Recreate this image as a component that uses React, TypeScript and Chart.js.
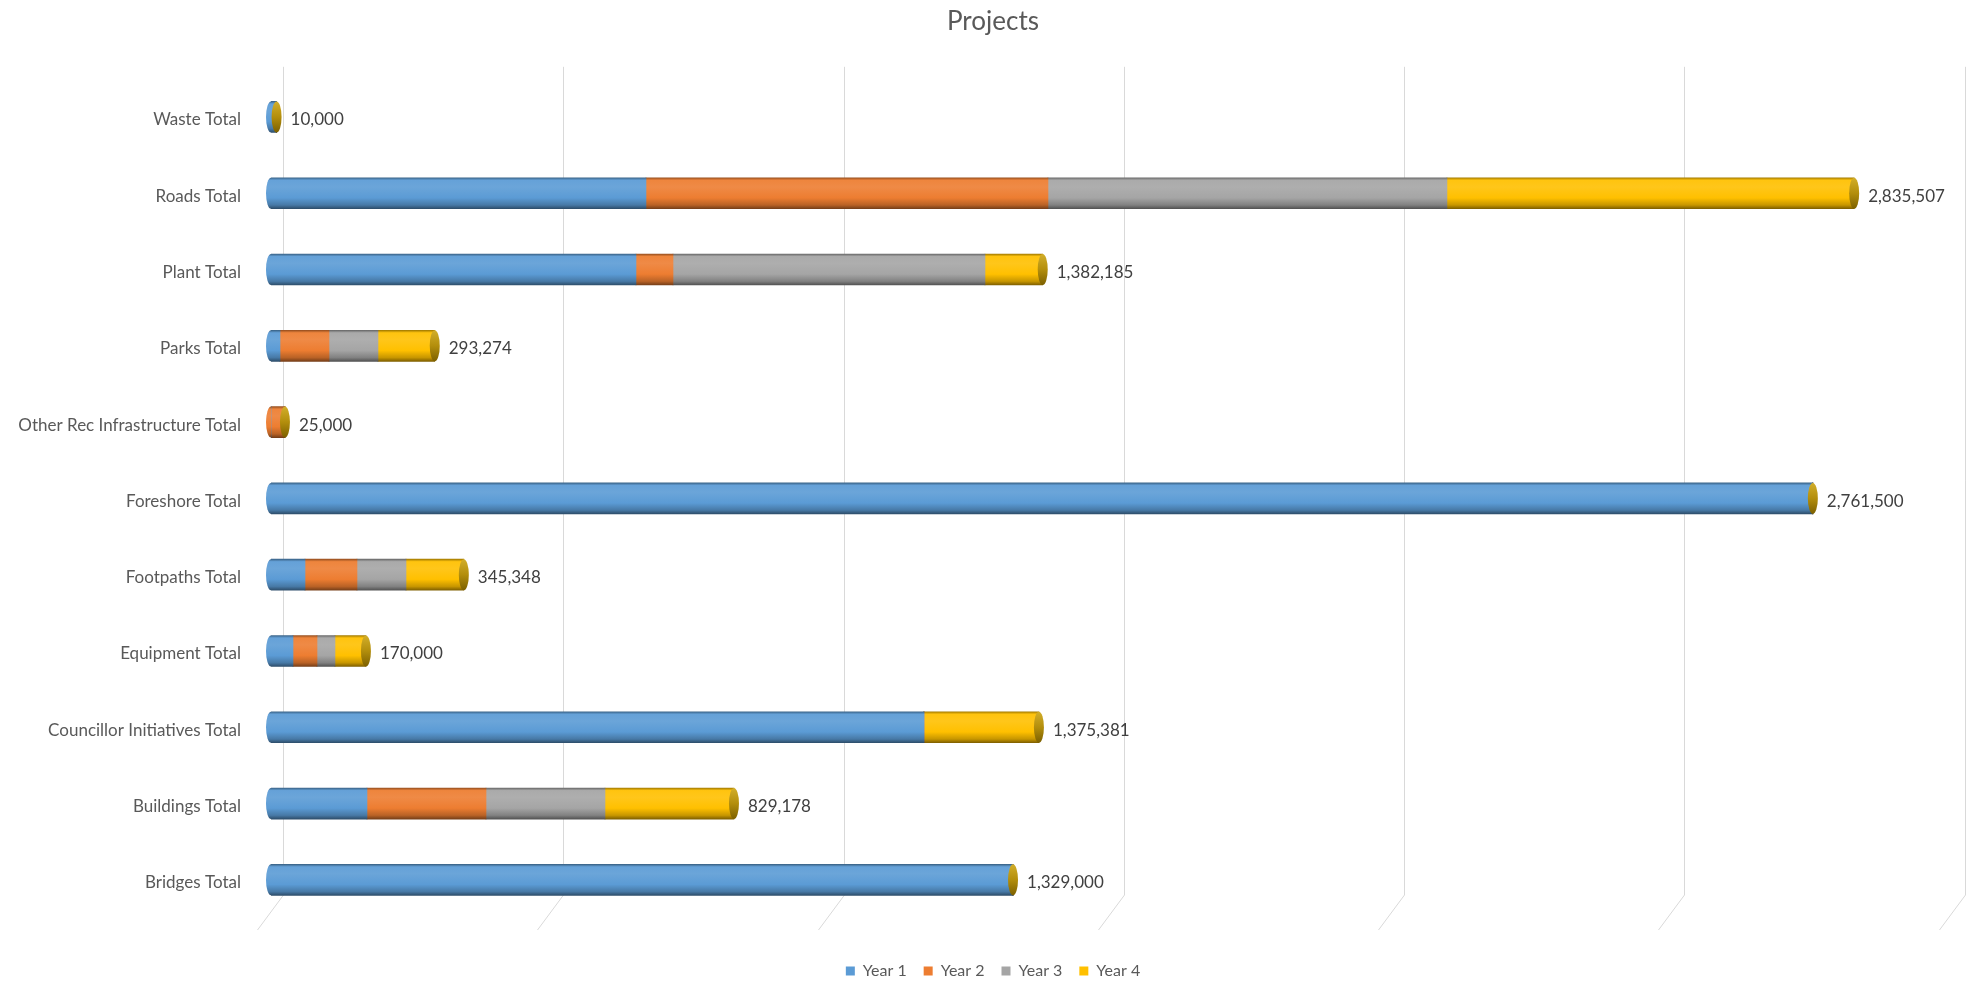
import React, { useEffect, useRef } from 'react';
import { Chart, registerables } from 'chart.js';

Chart.register(...registerables);

const categories = [
  'Waste Total',
  'Roads Total',
  'Plant Total',
  'Parks Total',
  'Other Rec Infrastructure Total',
  'Foreshore Total',
  'Footpaths Total',
  'Equipment Total',
  'Councillor Initiatives Total',
  'Buildings Total',
  'Bridges Total',
];
const year1 = [10000, 671600, 653700, 16100, 0, 2761500, 60900, 39400, 1169500, 171900, 1329000];
const year2 = [0, 720000, 66300, 87800, 25000, 0, 93100, 43000, 0, 213200, 0];
const year3 = [0, 714600, 558800, 87700, 0, 0, 87800, 32200, 0, 213100, 0];
const year4 = [0, 729307, 103385, 101674, 0, 0, 103548, 55400, 205881, 230978, 0];
const seriesNames = ['Year 1', 'Year 2', 'Year 3', 'Year 4'];
const seriesColors = ['#5B9BD5', '#ED7D31', '#A5A5A5', '#FFC000'];
const gridValues = [0, 500000, 1000000, 1500000, 2000000, 2500000, 3000000];

const FONT = 'Lato, "Open Sans", sans-serif';
const BAR = 31;

function shade(hex: string, amt: number): string {
  const n = parseInt(hex.slice(1), 16);
  let r = (n >> 16) & 255;
  let g = (n >> 8) & 255;
  let b = n & 255;
  const t = amt < 0 ? 0 : 255;
  const p = Math.abs(amt);
  r = Math.round(r + (t - r) * p);
  g = Math.round(g + (t - g) * p);
  b = Math.round(b + (t - b) * p);
  return `rgb(${r},${g},${b})`;
}

function cylinder(ctx: CanvasRenderingContext2D, color: string, top: number, h: number) {
  const g = ctx.createLinearGradient(0, top, 0, top + h);
  g.addColorStop(0, shade(color, -0.35));
  g.addColorStop(0.08, shade(color, 0.06));
  g.addColorStop(0.3, shade(color, 0.1));
  g.addColorStop(0.65, color);
  g.addColorStop(0.88, shade(color, -0.22));
  g.addColorStop(1, shade(color, -0.5));
  return g;
}

const series = [year1, year2, year3, year4];

const decorPlugin = {
  id: 'decor3d',
  beforeDatasetsDraw(chart: any) {
    const { ctx, chartArea, scales } = chart;
    const xs = scales.x;
    const x0 = xs.getPixelForValue(0);
    ctx.save();
    ctx.strokeStyle = '#D9D9D9';
    ctx.lineWidth = 1;
    const top = chartArea.top - 12;
    const bottom = chartArea.bottom - 23;
    for (const v of gridValues) {
      // back wall of the 3D plot: shifted right and very slightly wider
      const xb = Math.round(x0 + 12 + (xs.getPixelForValue(v) - x0) * 1.004) + 0.5;
      ctx.beginPath();
      ctx.moveTo(xb, top);
      ctx.lineTo(xb, bottom);
      ctx.lineTo(xb - 26, bottom + 35);
      ctx.stroke();
    }
    ctx.restore();
  },
  afterDatasetsDraw(chart: any) {
    const { ctx, scales } = chart;
    const xs = scales.x;
    const ys = scales.y;
    ctx.save();
    categories.forEach((_, i) => {
      const cy = ys.getPixelForValue(i);
      const total = series.reduce((s, arr) => s + arr[i], 0);
      const x0 = xs.getPixelForValue(0);
      const xEnd = xs.getPixelForValue(total);
      const first = series.findIndex((arr) => arr[i] > 0);
      if (first >= 0) {
        ctx.fillStyle = cylinder(ctx, seriesColors[first], cy - BAR / 2, BAR);
        ctx.beginPath();
        ctx.ellipse(x0, cy, 5, BAR / 2, 0, Math.PI / 2, (3 * Math.PI) / 2);
        ctx.closePath();
        ctx.fill();
      }
      const g = ctx.createLinearGradient(0, cy - BAR / 2, 0, cy + BAR / 2);
      g.addColorStop(0, '#D2AE2A');
      g.addColorStop(0.5, '#B38E0C');
      g.addColorStop(1, '#7C6000');
      ctx.fillStyle = g;
      ctx.beginPath();
      ctx.ellipse(xEnd, cy, 5, BAR / 2, 0, 0, Math.PI * 2);
      ctx.fill();
      ctx.fillStyle = '#404040';
      ctx.font = `17px ${FONT}`;
      ctx.textAlign = 'left';
      ctx.textBaseline = 'middle';
      ctx.fillText(total.toLocaleString('en-US'), xEnd + 14, cy + 3);
    });
    ctx.restore();
  },
};

export default function App() {
  const ref = useRef<HTMLCanvasElement>(null);
  useEffect(() => {
    const canvas = ref.current;
    if (!canvas) return;
    const chart = new Chart(canvas, {
      type: 'bar',
      data: {
        labels: categories,
        datasets: series.map((arr, k) => ({
          label: seriesNames[k],
          data: arr,
          borderWidth: 0,
          barThickness: BAR,
          backgroundColor: (c: any) => {
            const color = seriesColors[k];
            const ch = c.chart;
            const ys = ch.scales && ch.scales.y;
            if (c.type !== 'data' || !ys || !ch.chartArea) return color;
            const cy = ys.getPixelForValue(c.dataIndex);
            return cylinder(ch.ctx, color, cy - BAR / 2, BAR);
          },
        })),
      },
      options: {
        indexAxis: 'y',
        animation: false,
        responsive: true,
        maintainAspectRatio: false,
        events: [],
        layout: { padding: { top: 6, left: 16, right: 0, bottom: -5 } },
        scales: {
          x: {
            stacked: true,
            min: 0,
            max: 3043000,
            grid: { display: false, drawTicks: false },
            border: { display: false },
            ticks: { display: false },
            afterFit: (s: any) => {
              s.height = 28;
            },
          },
          y: {
            stacked: true,
            grid: { display: false, drawTicks: false },
            border: { display: false },
            ticks: {
              padding: 30,
              labelOffset: 3,
              color: '#595959',
              font: { family: FONT, size: 17 },
              autoSkip: false,
            },
            afterFit: (s: any) => {
              s.width = 255;
            },
          },
        },
        plugins: {
          title: {
            display: true,
            text: 'Projects',
            color: '#595959',
            font: { family: FONT, size: 26, weight: 'normal' },
            padding: { top: 0, bottom: 41.6 },
          },
          legend: {
            position: 'bottom',
            labels: {
              boxWidth: 9,
              boxHeight: 9,
              padding: 17,
              color: '#595959',
              font: { family: FONT, size: 16 },
              generateLabels: (ch: any) =>
                Chart.defaults.plugins.legend.labels.generateLabels(ch).map((l: any, i: number) => ({
                  ...l,
                  fillStyle: seriesColors[i],
                  strokeStyle: seriesColors[i],
                  lineWidth: 0,
                })),
            },
          },
          tooltip: { enabled: false },
        },
      },
      plugins: [decorPlugin],
    } as any);
    return () => chart.destroy();
  }, []);
  return (
    <div style={{ position: 'fixed', left: 0, top: 0, width: 1970, height: 984, background: '#fff' }}>
      <canvas ref={ref} />
    </div>
  );
}
